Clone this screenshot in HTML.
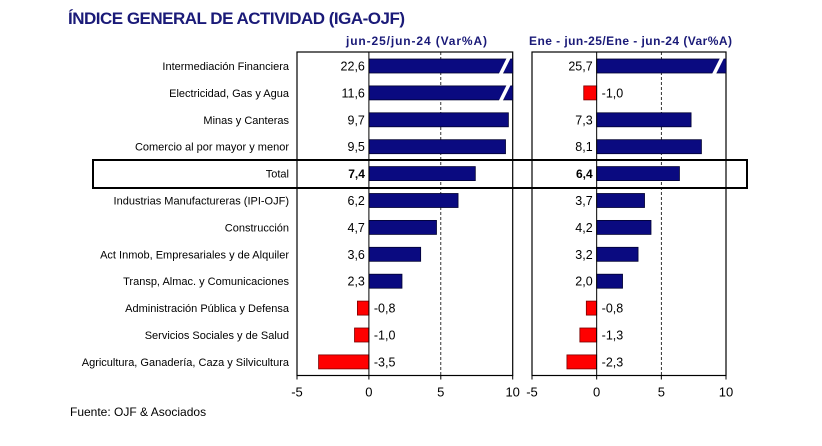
<!DOCTYPE html>
<html><head><meta charset="utf-8"><style>
body{margin:0;background:#fff;}
svg{display:block;font-family:"Liberation Sans",sans-serif;}
</style></head><body>
<svg id="chart" width="822" height="446" viewBox="0 0 822 446">
<text x="68" y="24" font-size="17" font-weight="bold" fill="#1a1a78" textLength="337">ÍNDICE GENERAL DE ACTIVIDAD (IGA-OJF)</text>
<text x="346" y="45" font-size="12" font-weight="bold" fill="#1a1a78" textLength="141">jun-25/jun-24  (Var%A)</text>
<text x="529" y="45" font-size="12" font-weight="bold" fill="#1a1a78" textLength="203">Ene - jun-25/Ene - jun-24  (Var%A)</text>
<rect x="93" y="160" width="654" height="28" fill="none" stroke="#000" stroke-width="2"/>
<g id="plot"></g>
<text x="70" y="416" font-size="12" fill="#000">Fuente: OJF &amp; Asociados</text>
</svg>
<script>
const categories=["Intermediación Financiera","Electricidad, Gas y Agua","Minas y Canteras","Comercio al por mayor y menor","Total","Industrias Manufactureras (IPI-OJF)","Construcción","Act Inmob, Empresariales y de Alquiler","Transp, Almac. y Comunicaciones","Administración Pública y Defensa","Servicios Sociales y de Salud","Agricultura, Ganadería, Caza y Silvicultura"];
const valuesJun=[22.6,11.6,9.7,9.5,7.4,6.2,4.7,3.6,2.3,-0.8,-1.0,-3.5];
const valuesYtd=[25.7,-1.0,7.3,8.1,6.4,3.7,4.2,3.2,2.0,-0.8,-1.3,-2.3];
const tickValues=[-5,0,5,10];
const NS="http://www.w3.org/2000/svg";
const plotG=document.getElementById('plot');
function mk(tag,attrs,parent){const e=document.createElementNS(NS,tag);for(const k in attrs)e.setAttribute(k,attrs[k]);(parent||plotG).appendChild(e);return e;}
const plotTop=52,plotBottom=375.5,rowStep=26.9,row0=66,barH=14;
function yPos(i){return row0+i*rowStep;}
const fmt=v=>v.toFixed(1).replace('.',',');
function panel(x0,x1,values,pname){
  const sx=v=>x0+(v+5)/15*(x1-x0);
  const f=mk('rect',{x:x0,y:plotTop,width:x1-x0,height:plotBottom-plotTop,fill:'none',stroke:'#000','stroke-width':1.2});
  
  
  const gl=mk('line',{x1:sx(5),x2:sx(5),y1:plotTop,y2:plotBottom,stroke:'#000','stroke-dasharray':'3,2','stroke-width':0.8});
  
  
  tickValues.forEach(t=>{
    const tl=mk('line',{x1:sx(t),x2:sx(t),y1:plotBottom,y2:plotBottom+4,stroke:'#000'});
    
    
    const tx=mk('text',{x:sx(t),y:plotBottom+21,'font-size':13,'text-anchor':'middle',fill:'#000'});
    tx.textContent=t;
    
    
  });
  values.forEach((v,i)=>{
    const yc=yPos(i);const vc=Math.max(-5,Math.min(10,v));
    const xa=Math.min(sx(0),sx(vc)),w=Math.abs(sx(vc)-sx(0));
    const b=mk('rect',{x:xa,y:yc-barH/2,width:w,height:barH,fill:v<0?'#ff0000':'#0a0a80',stroke:v<0?'#7a0000':'#000030','stroke-width':0.8});
    
    
    if(v>10){
      const bx=x1-14;
      const br=mk('polygon',{points:`${bx},${yc+barH/2+1} ${bx+4},${yc+barH/2+1} ${bx+12},${yc-barH/2-1} ${bx+8},${yc-barH/2-1}`,fill:'#fff'});
      
      
    }
    const isTotal=i===4;
    const t=mk('text',{y:yc+4.5,'font-size':isTotal?12:12.5,'font-weight':isTotal?'bold':'normal',fill:'#000'});
    if(v<0){t.setAttribute('x',sx(0)+5);}else{t.setAttribute('x',sx(0)-4);t.setAttribute('text-anchor','end');}
    t.textContent=fmt(v);
    
    
  });
  const z=mk('line',{x1:sx(0),x2:sx(0),y1:plotTop,y2:plotBottom,stroke:'#000','stroke-width':1});
  
  
}
panel(297,512.7,valuesJun,'panel-jun');
panel(532,726,valuesYtd,'panel-ytd');
categories.forEach((c,i)=>{
  const t=mk('text',{x:289,y:yPos(i)+4,'font-size':11,'text-anchor':'end',fill:'#000'});
  t.textContent=c;
  
  
});
</script>
</body></html>
